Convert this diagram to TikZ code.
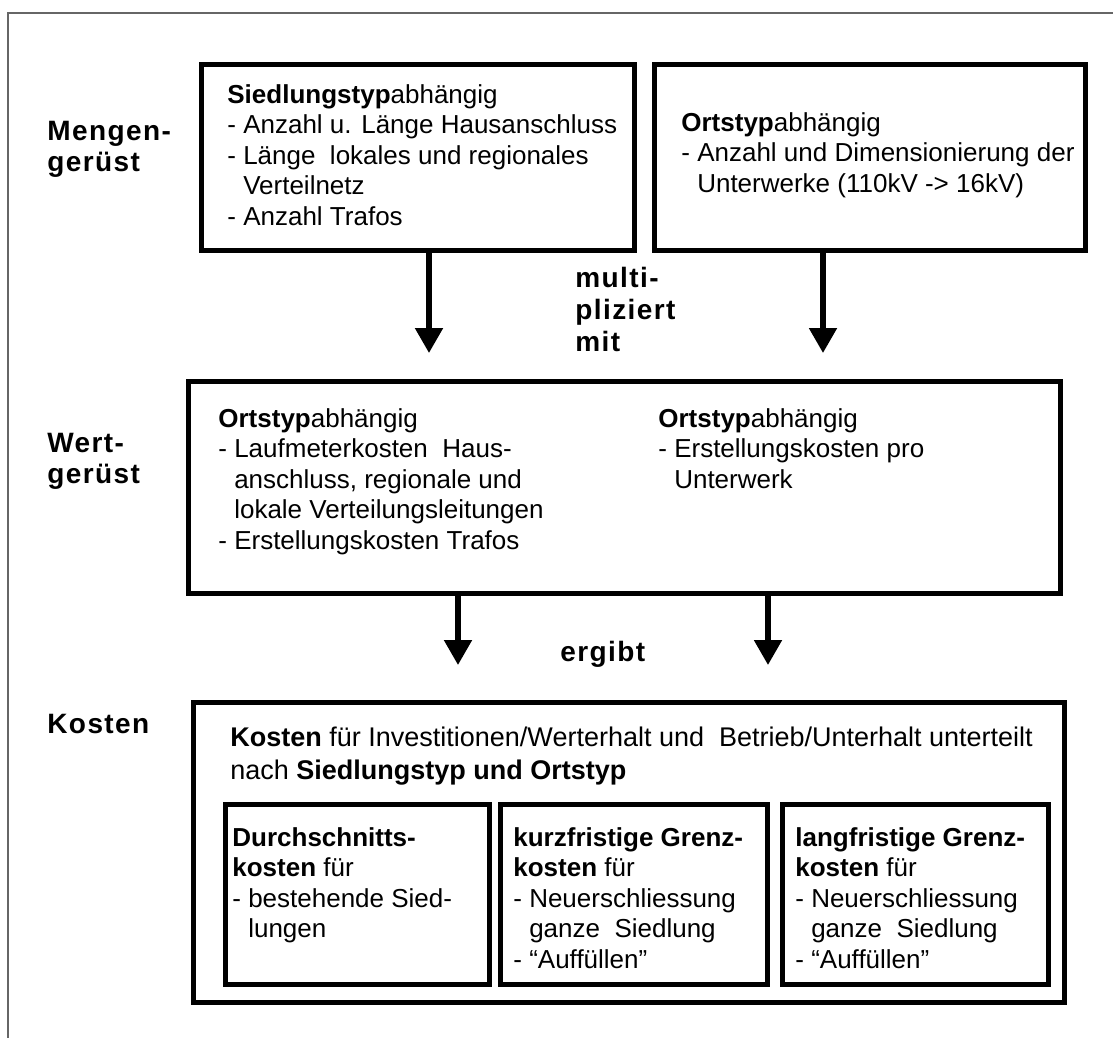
\documentclass[tikz,border=0pt]{standalone}
\usepackage{fontspec}
\setmainfont{Liberation Sans}
\usetikzlibrary{arrows.meta}
\newcommand{\ind}{\phantom{- }}

\begin{document}
\begin{tikzpicture}[x=0.5pt, y=-0.5pt, >={Triangle[width=13.5pt,length=12.5pt]},
  box/.style={draw, line width=2.6pt, inner sep=0pt, anchor=north west},
  txt/.style={anchor=north west, inner sep=0pt, align=left, font=\fontsize{13}{15.25}\selectfont},
  lbl/.style={txt, font=\fontsize{14}{15.5}\selectfont\bfseries\addfontfeature{LetterSpace=5}},
  flow/.style={line width=2.6pt, ->}]
  \useasboundingbox (0,0) rectangle (1115,1038);
  % Frame
  \draw[gray!80!black, line width=0.7pt] (8,1038) -- (8,13) -- (1113,13);
  % Nodes
  \node[lbl] (Lmenge) at (47,121) {Mengen-\\gerüst};
  \node[lbl] (Lwert) at (47,433) {Wert-\\gerüst};
  \node[lbl] (Lkost) at (47,714) {Kosten};
  \node[box, minimum width=216.5pt, minimum height=93pt](A) at (199,62) {};
  \node[txt, anchor=west] (Atxt) at (227,155) {\textbf{Siedlungstyp}abhängig\\- Anzahl u. Länge Hausanschluss\\- Länge\ \ lokales und regionales\\\ind Verteilnetz\\- Anzahl Trafos};
  \node[box, minimum width=215.5pt, minimum height=93pt](B) at (652,62) {};
  \node[txt, anchor=west] (Btxt) at (681,155) {\textbf{Ortstyp}abhängig\\- Anzahl und Dimensionierung der\\\ind Unterwerke (110kV -> 16kV)};
  \node[lbl, font=\fontsize{14}{16}\selectfont\bfseries\addfontfeature{LetterSpace=5}] (mult) at (575,267) {multi-\\pliziert\\mit};
  \node[box, minimum width=436pt, minimum height=106pt](C) at (186,379) {};
  \node[txt] (Cl) at (218,408) {\textbf{Ortstyp}abhängig\\- Laufmeterkosten\ \ Haus-\\\ind anschluss, regionale und\\\ind lokale Verteilungsleitungen\\- Erstellungskosten Trafos};
  \node[txt] (Cr) at (658,408) {\textbf{Ortstyp}abhängig\\- Erstellungskosten pro\\\ind Unterwerk};
  \node[lbl] (erg) at (560,641) {ergibt};
  \node[box, minimum width=435.5pt, minimum height=150pt](D) at (191,700) {};
  \node[txt, font=\fontsize{13.5}{16.5}\selectfont] (Dtxt) at (230,727) {\textbf{Kosten} für Investitionen/Werterhalt und\ \ Betrieb/Unterhalt unterteilt\\nach \textbf{Siedlungstyp und Ortstyp}};
  \node[box, minimum width=132pt, minimum height=90pt](D1) at (223,802) {};
  \node[box, minimum width=133.5pt, minimum height=90pt](D2) at (498,802) {};
  \node[box, minimum width=133pt, minimum height=90pt](D3) at (780,802) {};
  \node[txt] (D1txt) at (232,827) {\textbf{Durchschnitts-}\\\textbf{kosten} für\\- bestehende Sied-\\\ind lungen};
  \node[txt] (D2txt) at (513,827) {\textbf{kurzfristige Grenz-}\\\textbf{kosten} für\\- Neuerschliessung\\\ind ganze\ \ Siedlung\\- “Auffüllen”};
  \node[txt] (D3txt) at (795,827) {\textbf{langfristige Grenz-}\\\textbf{kosten} für\\- Neuerschliessung\\\ind ganze\ \ Siedlung\\- “Auffüllen”};
  % Edges
  \coordinate (t1) at (429,353);
  \coordinate (t2) at (823,353);
  \coordinate (t3) at (458,665);
  \coordinate (t4) at (768,665);
  \draw[flow] (t1 |- A.south) -- (t1);
  \draw[flow] (t2 |- B.south) -- (t2);
  \draw[flow] (t3 |- C.south) -- (t3);
  \draw[flow] (t4 |- C.south) -- (t4);
\end{tikzpicture}
\end{document}
